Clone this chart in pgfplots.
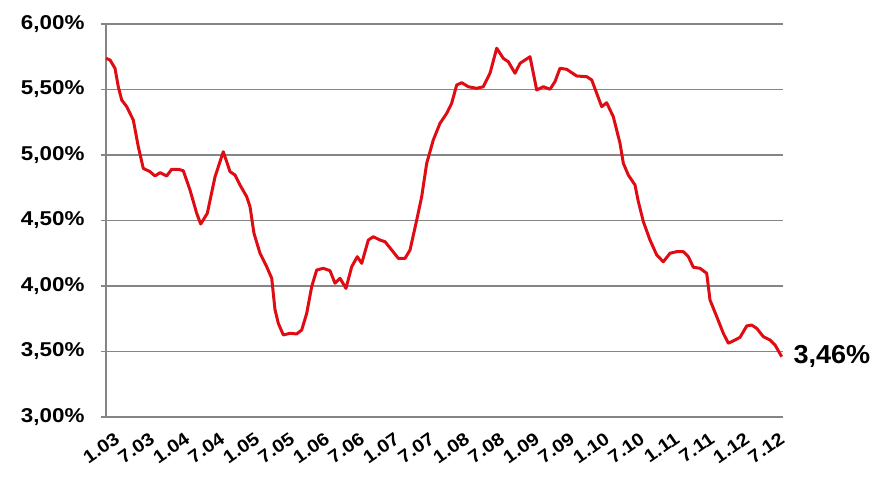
\documentclass[border=0pt]{standalone}
\usepackage{fontspec}
\setmainfont{Liberation Sans}
\newfontfamily\tickfont[FakeStretch=1.12]{Liberation Sans}
\newfontfamily\bigfont[FakeStretch=1.04]{Liberation Sans}
\usepackage{pgfplots}
\pgfplotsset{compat=1.18}
\definecolor{linered}{HTML}{E00C14}
\definecolor{gridgray}{HTML}{858585}
\begin{document}
\begin{tikzpicture}
\begin{axis}[
  scale only axis,
  width=677pt, height=393pt,
  xmin=0, xmax=116.06, ymin=3, ymax=6,
  axis x line=bottom, axis y line=left,
  axis line style={-, draw=gridgray, line width=1.2pt},
  x axis line style={draw=none},
  ytick={3,3.5,4,4.5,5,5.5,6},
  yticklabels={{3,00\%},{3,50\%},{4,00\%},{4,50\%},{5,00\%},{5,50\%},{6,00\%}},
  xtick={0,6,...,114},
  xticklabels={1.03,7.03,1.04,7.04,1.05,7.05,1.06,7.06,1.07,7.07,1.08,7.08,1.09,7.09,1.10,7.10,1.11,7.11,1.12,7.12},
  ymajorgrids,
  grid style={draw=gridgray, line width=1.7pt},
  tick align=outside,
  major tick length=5pt,
  ytick style={draw=gridgray, line width=1.2pt},
  xtick style={draw=none},
  yticklabel style={font=\tickfont\bfseries\fontsize{20}{22}\selectfont, anchor=east, xshift=-13pt},
  xticklabel style={font=\tickfont\bfseries\fontsize{18}{20}\selectfont, rotate=35, anchor=north east, yshift=-11pt, xshift=2pt, inner sep=1pt},
  clip=false,
]
\addplot[color=linered, line width=3pt, line join=round] coordinates {
(0,5.738) (0.69,5.725) (1.54,5.662) (2.11,5.521) (2.69,5.420) (3.55,5.369)
(4.68,5.267) (5.54,5.063) (6.39,4.898) (7.54,4.873) (8.40,4.840) (9.26,4.865)
(10.41,4.840) (11.26,4.891) (12.40,4.891) (13.25,4.880) (14.40,4.733) (15.55,4.555)
(16.24,4.473) (17.37,4.555) (18.69,4.834) (20.11,5.025) (21.26,4.873) (22.12,4.847)
(22.97,4.771) (24.12,4.682) (24.69,4.605) (25.37,4.402) (26.40,4.250) (27.55,4.147)
(28.41,4.059) (28.97,3.820) (29.54,3.715) (30.40,3.626) (31.54,3.639) (32.69,3.634)
(33.55,3.664) (34.41,3.792) (35.26,3.995) (36.12,4.122) (37.25,4.135) (38.40,4.117)
(39.26,4.021) (40.12,4.059) (41.14,3.982) (42.12,4.147) (43.08,4.224) (43.84,4.173)
(44.97,4.351) (45.82,4.376) (46.97,4.351) (47.83,4.338) (48.98,4.275) (50.11,4.211)
(51.26,4.211) (52.12,4.275) (53.27,4.504) (54.12,4.682) (54.98,4.937) (56.11,5.115)
(57.26,5.242) (58.41,5.318) (59.26,5.395) (60.12,5.534) (60.98,5.552) (62.11,5.521)
(63.55,5.509) (64.68,5.521) (65.83,5.624) (66.98,5.815) (68.11,5.738) (68.97,5.712)
(70.12,5.624) (70.98,5.700) (72.69,5.750) (73.26,5.624) (73.84,5.496) (74.97,5.521)
(76.12,5.502) (76.97,5.560) (77.83,5.662) (78.98,5.654) (80.69,5.603) (82.41,5.598)
(83.27,5.573) (84.12,5.471) (84.98,5.369) (85.83,5.399) (86.97,5.292) (88.12,5.089)
(88.69,4.937) (89.54,4.847) (90.69,4.771) (91.26,4.644) (92.12,4.491) (93.26,4.351)
(94.41,4.237) (95.54,4.185) (96.69,4.250) (97.84,4.262) (98.97,4.262) (99.83,4.224)
(100.69,4.143) (101.84,4.135) (102.98,4.097) (103.55,3.893) (104.70,3.766) (105.83,3.639)
(106.69,3.563) (107.84,3.588) (108.69,3.608) (109.84,3.695) (110.69,3.702) (111.55,3.677)
(112.69,3.613) (113.83,3.588) (114.69,3.550) (115.84,3.460)
} node[pos=1, anchor=west, xshift=7pt, text=black, font=\bigfont\bfseries\fontsize{26}{28}\selectfont] {3,46\%};
\end{axis}
\pgfresetboundingbox
\path[use as bounding box] ([xshift=-106pt, yshift=-60pt]current axis.south west) rectangle ([xshift=93pt, yshift=24pt]current axis.north east);
\end{tikzpicture}
\end{document}
